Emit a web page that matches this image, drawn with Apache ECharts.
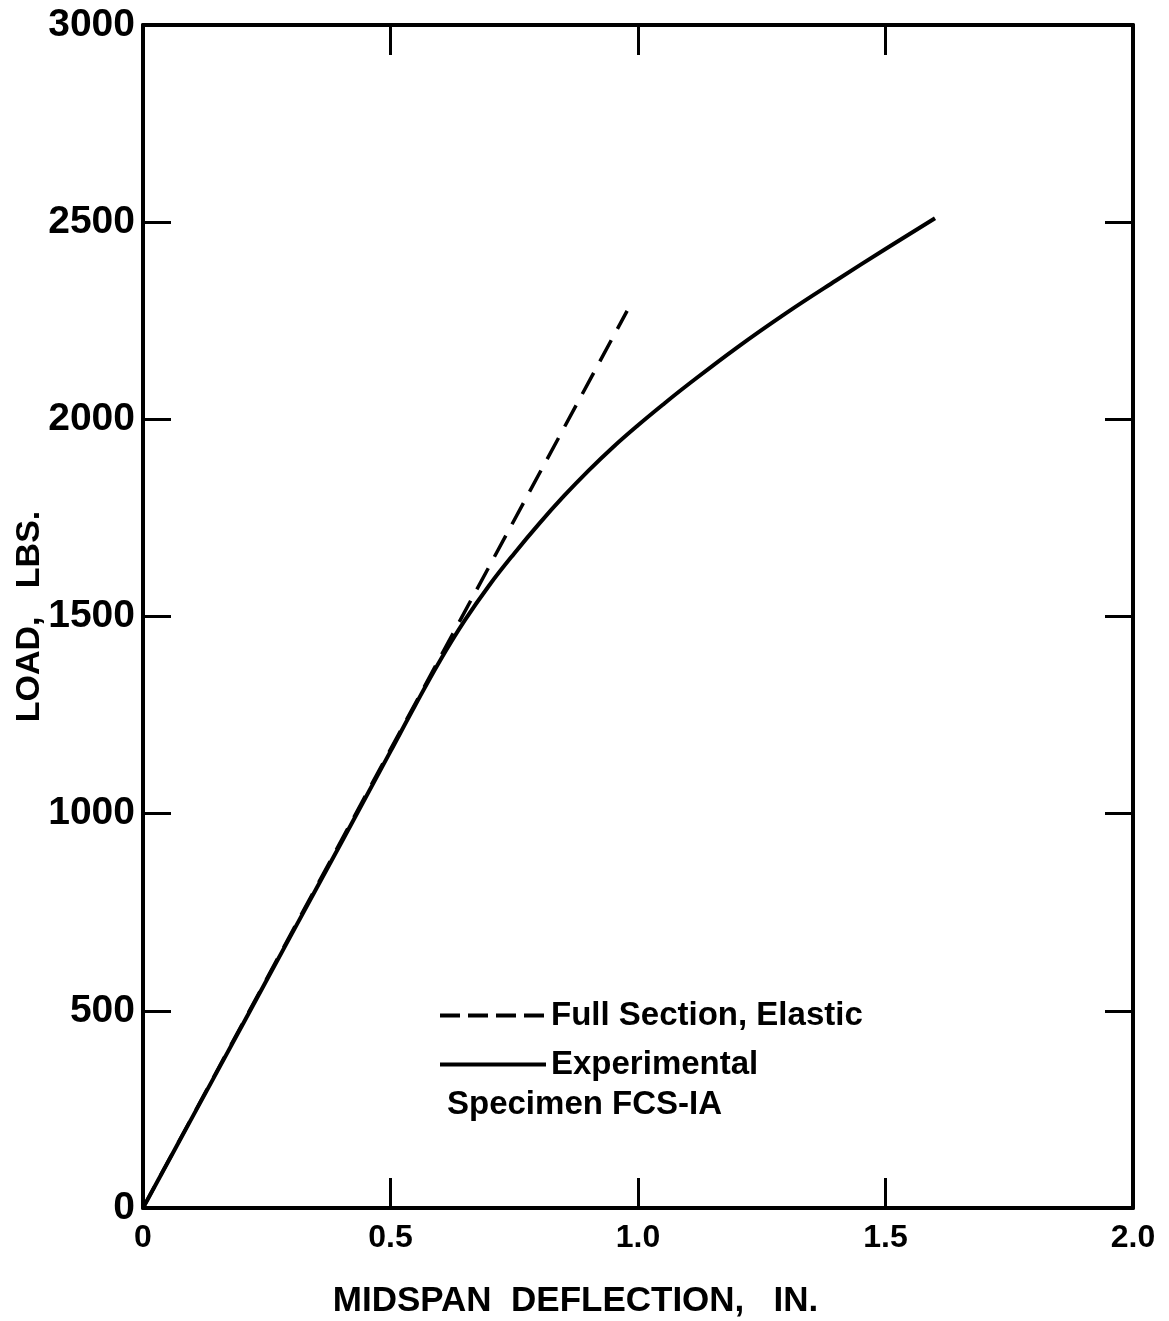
<!DOCTYPE html>
<html>
<head>
<meta charset="utf-8">
<script src="https://cdn.jsdelivr.net/npm/echarts@6/dist/echarts.min.js"></script>
<style>
  html, body { margin: 0; padding: 0; background: #fff; }
  #chart { width: 1169px; height: 1321px; }
</style>
</head>
<body>
<div id="chart"></div>
<script>
// elastic line (full section) - straight
var elasticX = [0, 0.978];
var elasticY = [0, 2275];

// experimental curve
var expX = [0, 0.1, 0.2, 0.3, 0.4, 0.5, 0.55, 0.6, 0.65, 0.7, 0.75, 0.8, 0.85, 0.9, 0.95, 1.0, 1.05, 1.1, 1.2, 1.3, 1.4, 1.5, 1.6];
var expY = [0, 231, 462, 694, 925, 1158, 1275, 1388, 1490, 1580, 1660, 1735, 1805, 1870, 1930, 1985, 2037, 2087, 2182, 2270, 2352, 2432, 2510];

var xTicks = ["0", "0.5", "1.0", "1.5", "2.0"];

var font = "Liberation Sans";
var chart = echarts.init(document.getElementById("chart"));

function pairs(xs, ys) {
  var out = [];
  for (var i = 0; i < xs.length; i++) out.push([xs[i], ys[i]]);
  return out;
}

var frame = {
  axisLine: { onZero: false, lineStyle: { color: "#000", width: 4 } },
  axisTick: { inside: true, length: 28, lineStyle: { color: "#000", width: 3 } }
};

var option = {
  backgroundColor: "#fff",
  animation: false,
  grid: { left: 143, right: 36, top: 25, bottom: 113, outerBoundsMode: "none", containLabel: false },
  legend: {
    orient: "vertical",
    left: 433,
    top: 994,
    itemWidth: 106,
    itemHeight: 6,
    itemGap: 16,
    itemStyle: { opacity: 0 },
    textStyle: { fontFamily: font, fontWeight: "bold", fontSize: 33, color: "#000" },
    data: [
      { name: "Full Section, Elastic", lineStyle: { type: [20, 8], width: 4 } },
      { name: "Experimental", lineStyle: { width: 4 } }
    ]
  },
  graphic: [
    {
      type: "text",
      left: 447,
      top: 1088,
      style: { text: "Specimen FCS-IA", fontFamily: font, fontWeight: "bold", fontSize: 33, fill: "#000" }
    }
  ],
  xAxis: [
    {
      type: "value",
      min: 0, max: 2, interval: 0.5,
      name: "MIDSPAN  DEFLECTION,   IN.",
      nameLocation: "middle",
      nameGap: 76,
      nameTextStyle: { fontFamily: font, fontWeight: "bold", fontSize: 35, color: "#000", padding: [0, 125, 0, 0] },
      axisLine: frame.axisLine,
      axisTick: { inside: true, length: 30, lineStyle: { color: "#000", width: 3 } },
      axisLabel: {
        margin: 14, fontFamily: font, fontWeight: "bold", fontSize: 32, color: "#000",
        formatter: function (v) { return xTicks[Math.round(v / 0.5)]; }
      },
      splitLine: { show: false }
    },
    {
      type: "value", position: "top",
      min: 0, max: 2, interval: 0.5,
      axisLine: frame.axisLine,
      axisTick: { inside: true, length: 30, lineStyle: { color: "#000", width: 3 } },
      axisLabel: { show: false },
      splitLine: { show: false }
    }
  ],
  yAxis: [
    {
      type: "value",
      min: 0, max: 3000, interval: 500,
      name: "LOAD,   LBS.",
      nameLocation: "middle",
      nameGap: 96,
      nameMoveOverlap: false,
      nameTextStyle: { fontFamily: font, fontWeight: "bold", fontSize: 34, color: "#000" },
      axisLine: frame.axisLine,
      axisTick: frame.axisTick,
      axisLabel: {
        margin: 8, fontFamily: font, fontWeight: "bold", fontSize: 39, color: "#000",
        formatter: function (v) { return String(v); }
      },
      splitLine: { show: false }
    },
    {
      type: "value", position: "right",
      min: 0, max: 3000, interval: 500,
      axisLine: frame.axisLine,
      axisTick: frame.axisTick,
      axisLabel: { show: false },
      splitLine: { show: false }
    }
  ],
  series: [
    {
      name: "Full Section, Elastic",
      type: "line",
      symbol: "none",
      data: pairs(elasticX, elasticY),
      lineStyle: { color: "#000", width: 3.5, type: [24, 13] },
      itemStyle: { color: "#000" }
    },
    {
      name: "Experimental",
      type: "line",
      symbol: "none",
      smooth: 0.4,
      data: pairs(expX, expY),
      lineStyle: { color: "#000", width: 4 },
      itemStyle: { color: "#000" }
    }
  ]
};

chart.setOption(option);
</script>
</body>
</html>
